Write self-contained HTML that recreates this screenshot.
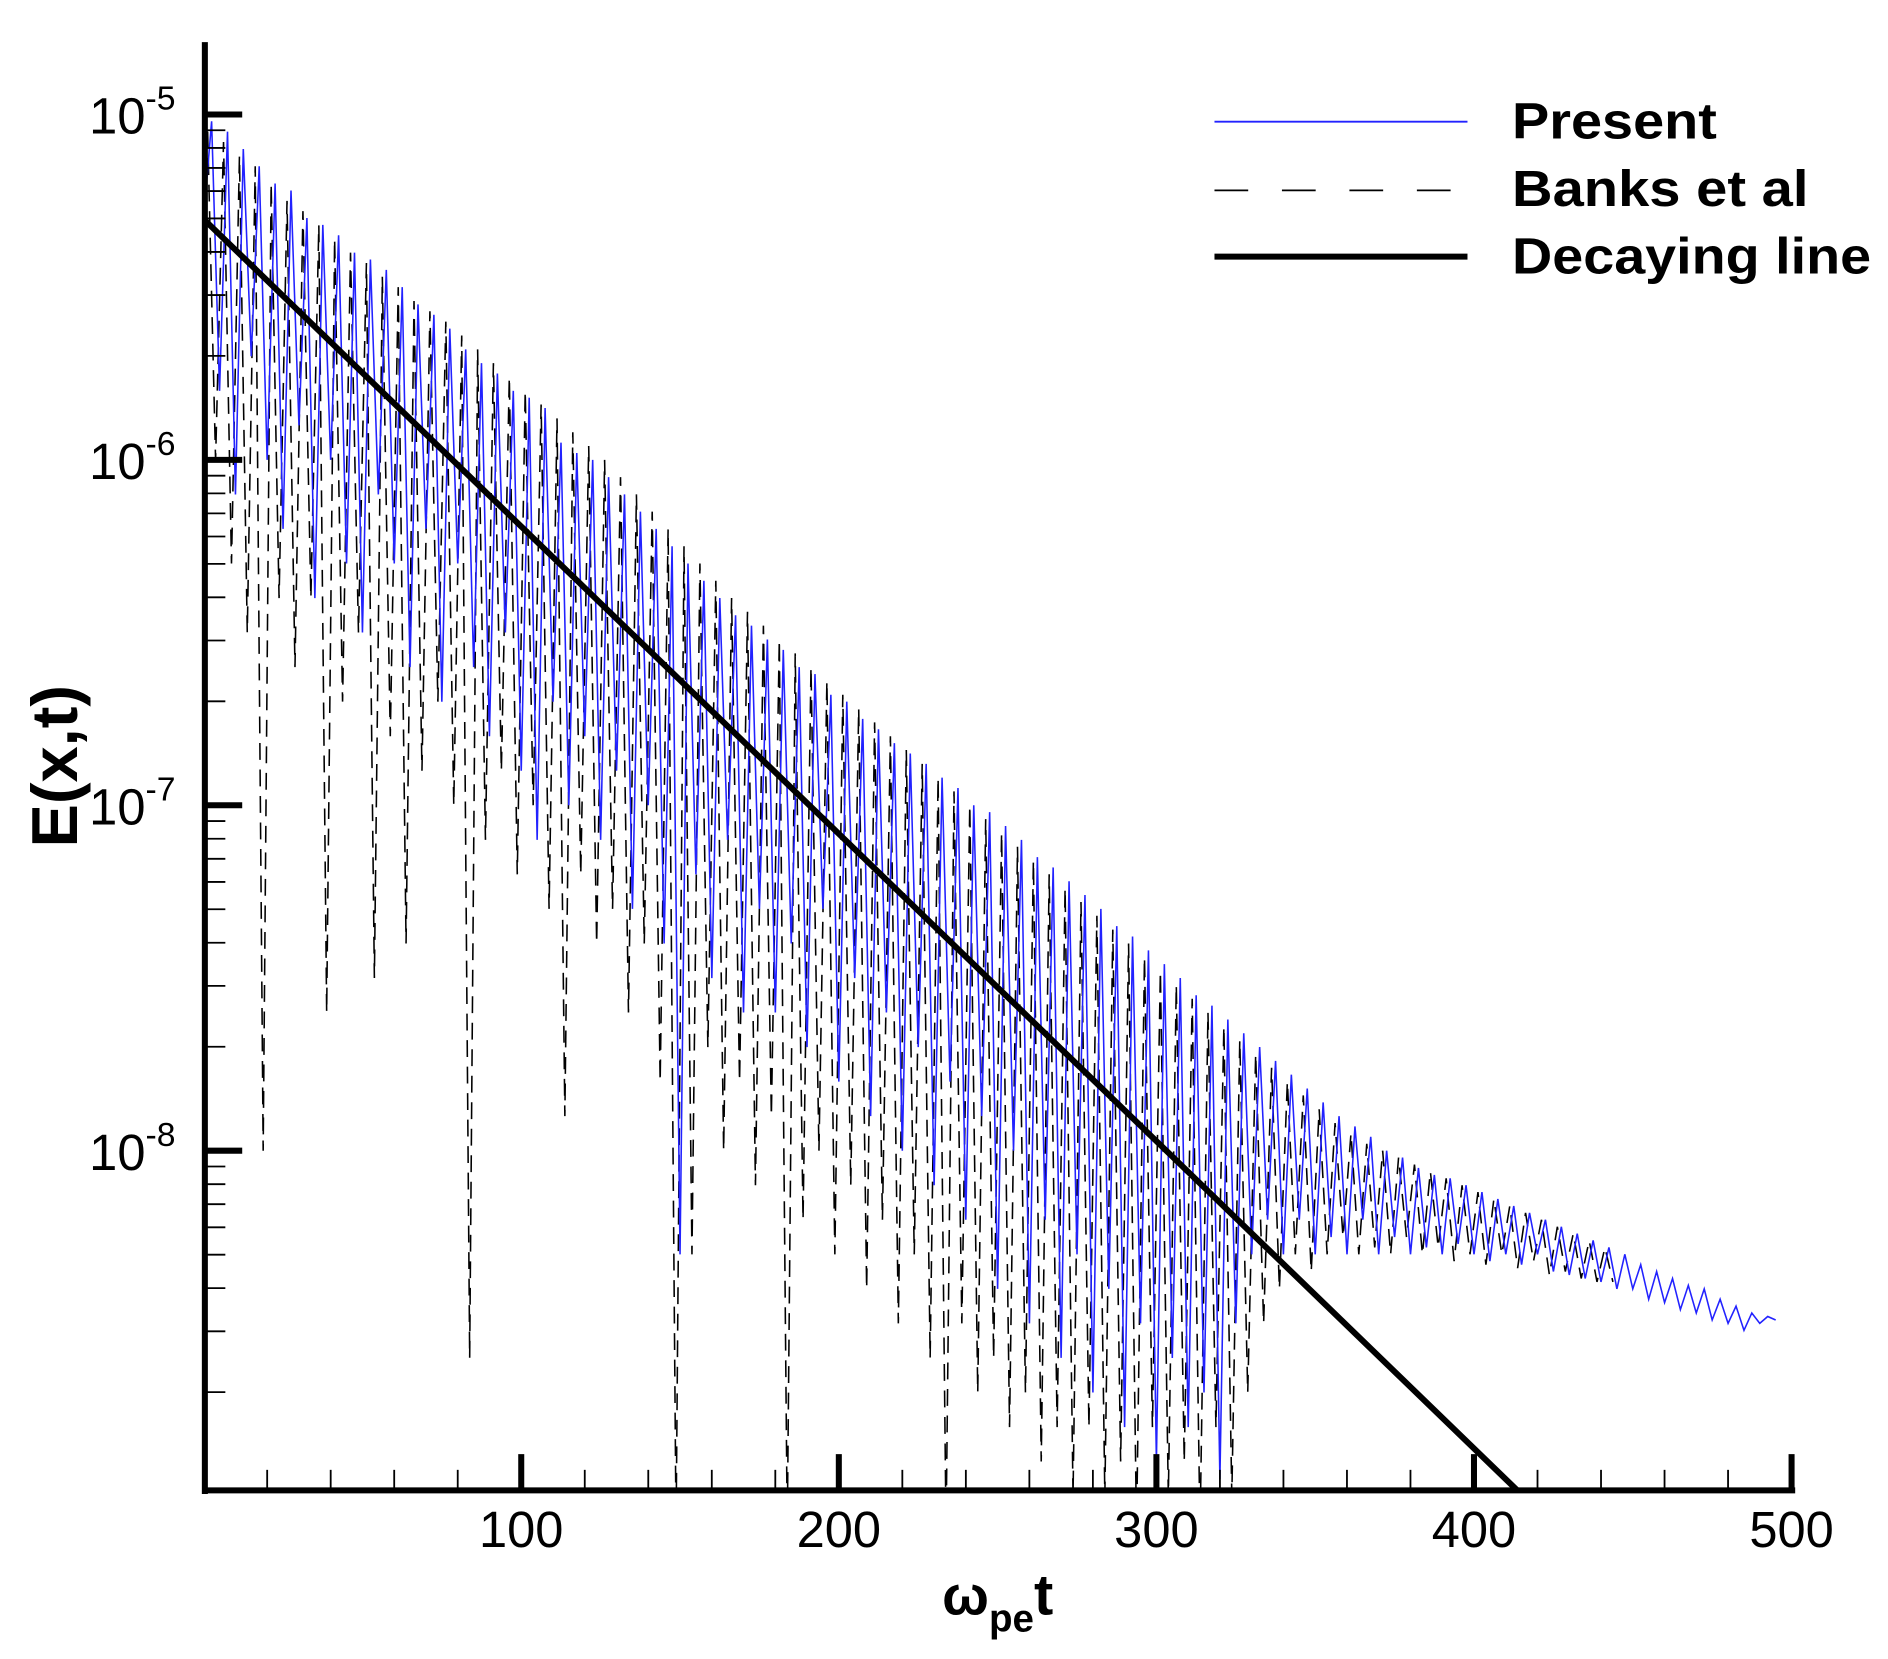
<!DOCTYPE html>
<html><head><meta charset="utf-8"><style>
html,body{margin:0;padding:0;background:#fff;}
svg{display:block;}
text{font-family:"Liberation Sans",sans-serif;}
</style></head><body>
<svg id="chart" width="1888" height="1659" viewBox="0 0 1567 1377" xmlns="http://www.w3.org/2000/svg">
<defs><clipPath id="plotclip"><rect x="170" y="30" width="1320" height="1207"/></clipPath></defs>
<g id="series" clip-path="url(#plotclip)"></g>
<g id="axes"></g>
<g id="legend">
  <line x1="1008" y1="101" x2="1218" y2="101" stroke="#2222ff" stroke-width="1.5"/>
  <line x1="1008" y1="158" x2="1218" y2="158" stroke="#000" stroke-width="1.5" stroke-dasharray="28 28"/>
  <line x1="1008" y1="213" x2="1218" y2="213" stroke="#000" stroke-width="5"/>
  <text x="1255" y="115" font-size="42" font-weight="bold" textLength="170" lengthAdjust="spacingAndGlyphs">Present</text>
  <text x="1255" y="171" font-size="42" font-weight="bold" textLength="246" lengthAdjust="spacingAndGlyphs">Banks et al</text>
  <text x="1255" y="227" font-size="42" font-weight="bold" textLength="298" lengthAdjust="spacingAndGlyphs">Decaying line</text>
</g>
<text transform="translate(64,636) rotate(-90)" text-anchor="middle" font-size="54" font-weight="bold">E(x,t)</text>
<text x="782" y="1340" font-size="46" font-weight="bold">ω<tspan font-size="32" dy="14">pe</tspan><tspan font-size="48" dy="-14">t</tspan></text>
</svg>
<script>
const xTickLabels = [100, 200, 300, 400, 500];
const yDecades = [-5, -6, -7, -8];
const presentStart = 0;
const presentStep = 2.5;
const presentLogE = [
-5.3,-5.02,-5.8,-5.05,-6.1,-5.1,-5.7,-5.15,-6.0,-5.2,
-6.2,-5.22,-5.9,-5.3,-6.4,-5.32,-6.0,-5.35,-6.3,-5.4,
-6.5,-5.42,-6.1,-5.45,-6.3,-5.5,-6.6,-5.55,-6.2,-5.58,
-6.7,-5.62,-6.3,-5.68,-6.6,-5.72,-6.8,-5.75,-6.5,-5.8,
-6.9,-5.82,-7.1,-5.85,-6.7,-5.95,-7.0,-5.98,-6.8,-6.0,
-7.1,-6.05,-6.9,-6.1,-7.3,-6.15,-7.0,-6.2,-7.4,-6.25,
-8.3,-6.3,-7.2,-6.35,-7.5,-6.4,-7.1,-6.45,-7.6,-6.48,
-7.3,-6.52,-7.6,-6.55,-7.4,-6.6,-7.7,-6.62,-7.3,-6.68,
-7.8,-6.7,-7.5,-6.75,-7.9,-6.78,-7.6,-6.82,-8.0,-6.85,
-7.7,-6.88,-8.1,-6.92,-7.8,-6.95,-8.2,-7.0,-7.9,-7.02,
-8.4,-7.06,-8.0,-7.1,-8.5,-7.15,-8.2,-7.18,-8.6,-7.22,
-8.3,-7.26,-8.7,-7.3,-8.4,-7.35,-8.8,-7.38,-8.5,-7.42,
-8.9,-7.46,-8.6,-7.5,-8.8,-7.55,-8.7,-7.58,-8.95,-7.62,
-8.5,-7.66,-8.3,-7.7,-8.2,-7.74,-8.3,-7.78,-8.2,-7.82,
-8.3,-7.86,-8.25,-7.9,-8.3,-7.93,-8.2,-7.96,-8.3,-8.0,
-8.25,-8.02,-8.3,-8.05,-8.28,-8.07,-8.3,-8.08,-8.27,-8.1,
-8.3,-8.12,-8.32,-8.14,-8.3,-8.16,-8.33,-8.18,-8.3,-8.2,
-8.35,-8.22,-8.36,-8.24,-8.37,-8.26,-8.38,-8.28,-8.4,-8.3,
-8.4,-8.33,-8.43,-8.35,-8.44,-8.37,-8.46,-8.39,-8.47,-8.4,
-8.49,-8.43,-8.5,-8.45,-8.52,-8.47,-8.5,-8.48,-8.49];
const banksStart = 1.25;
const banksStep = 2.5;
const banksLogE = [
-5.05,-6.0,-5.08,-6.3,-5.12,-6.5,-5.15,-8.0,-5.2,-6.4,
-5.25,-6.6,-5.28,-6.4,-5.32,-7.6,-5.36,-6.7,-5.4,-6.5,
-5.43,-7.5,-5.47,-6.8,-5.5,-7.4,-5.54,-6.9,-5.57,-6.7,
-5.6,-7.0,-5.64,-8.6,-5.68,-7.1,-5.72,-6.9,-5.76,-7.2,
-5.8,-7.0,-5.84,-7.3,-5.88,-7.9,-5.92,-7.2,-5.96,-7.4,
-6.0,-7.3,-6.05,-7.6,-6.1,-7.4,-6.15,-7.8,-6.2,-9.1,
-6.25,-8.3,-6.3,-7.7,-6.35,-8.0,-6.4,-7.8,-6.44,-8.1,
-6.48,-7.9,-6.52,-9.1,-6.56,-8.2,-6.6,-8.0,-6.64,-8.3,
-6.68,-8.1,-6.72,-8.4,-6.76,-8.2,-6.8,-8.5,-6.84,-8.3,
-6.88,-8.6,-6.92,-9.1,-6.96,-8.5,-7.0,-8.7,-7.04,-8.6,
-7.08,-8.8,-7.12,-8.7,-7.16,-8.9,-7.2,-8.8,-7.24,-9.0,
-7.28,-8.8,-7.32,-9.0,-7.36,-8.9,-7.4,-9.1,-7.44,-8.8,
-7.48,-9.0,-7.52,-8.9,-7.56,-9.1,-7.6,-8.8,-7.64,-9.0,
-7.68,-8.7,-7.72,-8.5,-7.76,-8.4,-7.8,-8.3,-7.84,-8.35,
-7.88,-8.3,-7.92,-8.25,-7.95,-8.3,-7.98,-8.28,-8.0,-8.3,
-8.02,-8.25,-8.04,-8.3,-8.06,-8.28,-8.08,-8.32,-8.1,-8.3,
-8.12,-8.33,-8.14,-8.3,-8.16,-8.34,-8.18,-8.32,-8.2,-8.36,
-8.22,-8.35,-8.24,-8.37,-8.26,-8.38,-8.28,-8.38];
const decayT = [0, 420];
const decayLogE = [-5.303, -9.04];

const NS='http://www.w3.org/2000/svg';
const X0=169, XS=2.636;
const xS = t => X0 + t*XS;
const yS = l => 95 + (-5 - l)*286.7;
function mk(tag, attrs, parent){const e=document.createElementNS(NS,tag);for(const k in attrs)e.setAttribute(k,attrs[k]);parent.appendChild(e);return e;}
const series=document.getElementById('series'), axes=document.getElementById('axes');

let d=banksLogE.map((v,i)=>(i?'L':'M')+xS(banksStart+i*banksStep).toFixed(1)+' '+yS(v).toFixed(1)).join(' ');
const p2=mk('path',{d:d,fill:'none',stroke:'#000','stroke-width':1.3,'stroke-dasharray':'14 8'},series);


d=presentLogE.map((v,i)=>(i?'L':'M')+xS(presentStart+i*presentStep).toFixed(1)+' '+yS(v).toFixed(1)).join(' ');
const p1=mk('path',{d:d,fill:'none',stroke:'#2222ff','stroke-width':1.3},series);


const p3=mk('line',{x1:xS(decayT[0]),y1:yS(decayLogE[0]),x2:xS(decayT[1]),y2:yS(decayLogE[1]),stroke:'#000','stroke-width':5},series);



const la=mk('line',{x1:170,y1:35,x2:170,y2:1240,stroke:'#000','stroke-width':5},axes);


const lb=mk('line',{x1:168,y1:1237,x2:1490,y2:1237,stroke:'#000','stroke-width':5},axes);



for(let t=20;t<500;t+=20){
  if(t%100===0) continue;
  const m=mk('line',{x1:xS(t),y1:1237,x2:xS(t),y2:1220,stroke:'#000','stroke-width':1.5},axes);
  
  
}
xTickLabels.forEach(v=>{
  const m=mk('line',{x1:xS(v),y1:1237,x2:xS(v),y2:1207,stroke:'#000','stroke-width':5},axes);
  
  
  const tx=mk('text',{x:xS(v),y:1284,'text-anchor':'middle','font-size':42},axes);
  tx.textContent=v;
  
  
});
yDecades.forEach(dec=>{
  const m=mk('line',{x1:170,y1:yS(dec),x2:201,y2:yS(dec),stroke:'#000','stroke-width':5},axes);
  
  
  const tx=mk('text',{x:74,y:yS(dec)+16,'font-size':42},axes);
  tx.innerHTML='10<tspan font-size="28" dy="-20">'+dec+'</tspan>';
  
  
  for(let k=2;k<=9;k++){
    const y=yS(dec-1+Math.log10(k));
    if(y>1236) continue;
    const n=mk('line',{x1:170,y1:y,x2:187,y2:y,stroke:'#000','stroke-width':1.5},axes);
    
    
  }
});
</script>
</body></html>
